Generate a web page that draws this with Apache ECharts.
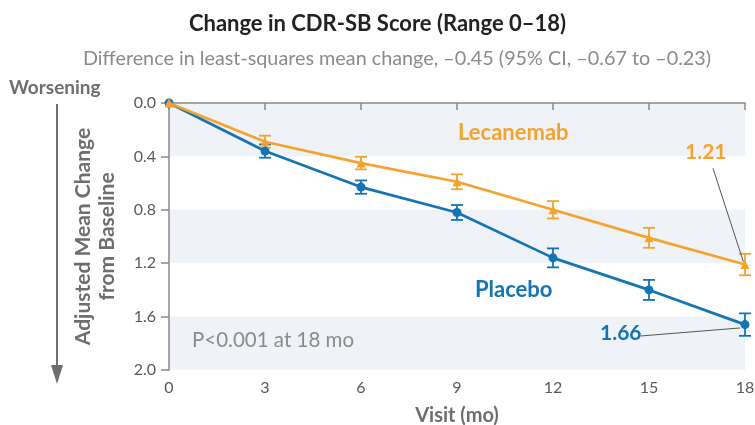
<!DOCTYPE html>
<html><head><meta charset="utf-8">
<script src="https://cdn.jsdelivr.net/npm/echarts@6/dist/echarts.min.js"></script>
<style>html,body{margin:0;padding:0;background:#fff}#c{width:755px;height:425px}</style>
</head><body><div id="c"></div>
<script>
const visits = [0, 3, 6, 9, 12, 15, 18];
const lecanemab = [0, 0.29, 0.45, 0.59, 0.80, 1.01, 1.21];
const lecanemabErr = [0, 0.045, 0.047, 0.056, 0.065, 0.075, 0.08];
const placebo = [0, 0.36, 0.63, 0.82, 1.16, 1.40, 1.66];
const placeboErr = [0, 0.05, 0.05, 0.056, 0.071, 0.075, 0.084];
const yTicks = [0, 0.4, 0.8, 1.2, 1.6, 2.0];

const ORANGE = '#F5A32E', BLUE = '#1474B4', GREY = '#6d6e70';
const F = 'Lato, sans-serif';

function errSeries(name, vals, errs, color) {
  return {
    type: 'custom', name: name + 'err', z: 3,
    data: visits.map((v, i) => [v, vals[i] - errs[i], vals[i] + errs[i]]).filter((d, i) => errs[i] > 0),
    renderItem: function (params, api) {
      const lo = api.coord([api.value(0), api.value(1)]);
      const hi = api.coord([api.value(0), api.value(2)]);
      const w = 6;
      const st = { stroke: color, lineWidth: 1.8 };
      return { type: 'group', children: [
        { type: 'line', shape: { x1: lo[0], y1: lo[1], x2: hi[0], y2: hi[1] }, style: st },
        { type: 'line', shape: { x1: lo[0] - w, y1: lo[1], x2: lo[0] + w, y2: lo[1] }, style: st },
        { type: 'line', shape: { x1: hi[0] - w, y1: hi[1], x2: hi[0] + w, y2: hi[1] }, style: st }
      ]};
    }
  };
}

const chart = echarts.init(document.getElementById('c'));
chart.setOption({
  animation: false,
  title: [
    { text: 'Change in CDR-SB Score (Range 0–18)', left: 'center', top: 8,
      textStyle: { fontFamily: F, fontWeight: 'bold', fontSize: 22, color: '#222' } },
    { text: 'Difference in least-squares mean change, –0.45 (95% CI, –0.67 to –0.23)', left: 78, top: 44,
      textStyle: { fontFamily: F, fontWeight: 'normal', fontSize: 19.8, color: '#8a8b8d' } }
  ],
  grid: { left: 169, right: 10, top: 103, bottom: 55, outerBoundsMode: 'none', containLabel: false },
  xAxis: {
    type: 'value', min: 0, max: 18, interval: 3,
    axisLine: { lineStyle: { color: '#8a8a8a', width: 1.5 } },
    axisTick: { length: 7, lineStyle: { color: '#8a8a8a', width: 1.5 } },
    axisLabel: { color: '#5a5a5a', fontFamily: F, fontSize: 16, margin: 10 },
    splitLine: { show: false },
    name: 'Visit (mo)', nameLocation: 'middle', nameGap: 36,
    nameTextStyle: { color: GREY, fontFamily: F, fontWeight: 'bold', fontSize: 20 }
  },
  yAxis: {
    type: 'value', inverse: true, min: 0, max: 2, interval: 0.4,
    axisLine: { show: true, lineStyle: { color: '#8a8a8a', width: 1.5 } },
    axisTick: { show: true, length: 8, lineStyle: { color: '#8a8a8a', width: 1.5 } },
    axisLabel: { color: '#5a5a5a', fontFamily: F, fontSize: 16, margin: 13,
      formatter: v => yTicks.some(t => Math.abs(t - v) < 1e-6) ? v.toFixed(1) : '' },
    splitLine: { show: false },
    splitArea: { show: true, areaStyle: { color: ['#EFF3F7', '#ffffff'] } },
    name: 'Adjusted Mean Change\nfrom Baseline', nameLocation: 'middle', nameGap: 50, nameRotate: 90,
    nameTextStyle: { color: GREY, fontFamily: F, fontWeight: 'bold', fontSize: 21, lineHeight: 24 }
  },
  series: [
    errSeries('Placebo', placebo, placeboErr, BLUE),
    errSeries('Lecanemab', lecanemab, lecanemabErr, ORANGE),
    {
      name: 'Placebo', type: 'line', z: 4, data: visits.map((v, i) => [v, placebo[i]]),
      symbol: 'circle', symbolSize: 9, lineStyle: { color: BLUE, width: 2.7 }, itemStyle: { color: BLUE },
      markLine: { silent: true, symbol: 'none', label: { show: false },
        lineStyle: { color: '#555', width: 1, type: 'solid' },
        data: [[{ coord: [14.75, 1.745] }, { coord: [17.85, 1.685] }]] }
    },
    {
      name: 'Lecanemab', type: 'line', z: 5, data: visits.map((v, i) => [v, lecanemab[i]]),
      symbol: 'triangle', symbolSize: 9, lineStyle: { color: ORANGE, width: 2.7 }, itemStyle: { color: ORANGE },
      markLine: { silent: true, symbol: 'none', label: { show: false },
        lineStyle: { color: '#555', width: 1, type: 'solid' },
        data: [[{ coord: [17.0, 0.49] }, { coord: [17.95, 1.19] }]] }
    }
  ],
  graphic: { elements: [
    { type: 'text', z: 100, left: 458, top: 122, style: { text: 'Lecanemab', fill: ORANGE, font: 'bold 22px ' + F } },
    { type: 'text', z: 100, left: 475, top: 279, style: { text: 'Placebo', fill: BLUE, font: 'bold 22px ' + F } },
    { type: 'text', z: 100, left: 685, top: 142, style: { text: '1.21', fill: ORANGE, font: 'bold 21px ' + F } },
    { type: 'text', z: 100, left: 600, top: 323, style: { text: '1.66', fill: BLUE, font: 'bold 21px ' + F } },
    { type: 'text', z: 100, left: 192, top: 330, style: { text: 'P<0.001 at 18 mo', fill: '#8a8b8d', font: '20.5px ' + F } },
    { type: 'text', z: 100, left: 9, top: 78, style: { text: 'Worsening', fill: GREY, font: 'bold 19px ' + F } },
    { type: 'line', z: 100, shape: { x1: 57, y1: 104, x2: 57, y2: 370 }, style: { stroke: GREY, lineWidth: 2 } },
    { type: 'polygon', z: 100, shape: { points: [[51, 365], [63, 365], [57, 384]] }, style: { fill: GREY } }
  ]}
});
</script></body></html>
